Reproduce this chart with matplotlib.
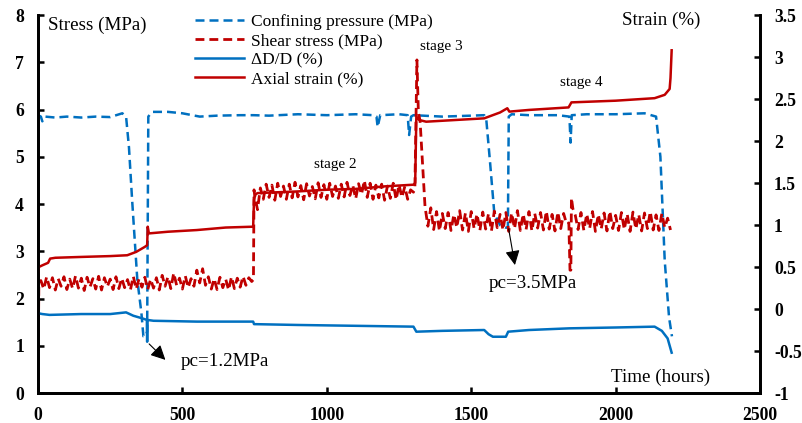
import matplotlib.pyplot as plt
from matplotlib.ticker import FuncFormatter

plt.rcParams['font.family'] = ['Liberation Serif', 'DejaVu Serif']

blue = "#0070C0"
red = "#C00000"

# confining pressure (MPa), left axis
conf_t = [0, 10, 15, 25, 60, 100, 150, 200, 250, 292, 305, 315, 326, 344, 358, 365, 372, 378,
          382, 395, 450, 500, 560, 620, 700, 746, 800, 900, 1000, 1100, 1160, 1172, 1176, 1185,
          1250, 1280, 1285, 1292, 1300, 1400, 1500, 1545, 1552, 1565, 1580, 1600, 1620, 1627,
          1630, 1640, 1700, 1800, 1840, 1844, 1848, 1900, 2000, 2100, 2140, 2155, 2170, 2185, 2195]
conf_p = [5.88, 5.85, 5.75, 5.85, 5.83, 5.85, 5.83, 5.85, 5.84, 5.92, 5.85, 5.2, 4.08, 2.39, 1.7,
          1.2, 1.2, 1.3, 5.85, 5.95, 5.95, 5.92, 5.85, 5.87, 5.88, 5.88, 5.87, 5.9, 5.88, 5.9,
          5.88, 5.85, 5.63, 5.88, 5.9, 5.88, 5.46, 5.85, 5.88, 5.85, 5.87, 5.88, 5.8, 4.9, 3.8,
          3.55, 3.5, 3.5, 5.85, 5.9, 5.88, 5.88, 5.85, 5.3, 5.88, 5.9, 5.9, 5.92, 5.85, 5.0, 2.8,
          1.6, 1.2]

# shear stress (MPa), left axis
shear_t0 = [0, 3]
shear0 = [0.0, 2.30]
shear_t1 = list(range(10, 750, 10))
shear1 = [2.38, 2.20, 2.46, 2.23, 2.44, 2.18, 2.42, 2.26, 2.46, 2.19,
          2.41, 2.21, 2.48, 2.22, 2.43, 2.17, 2.45, 2.24, 2.42, 2.20,
          2.47, 2.18, 2.44, 2.25, 2.41, 2.19, 2.46, 2.21, 2.43, 2.23,
          2.40, 2.18, 2.47, 2.20, 2.42, 2.24, 2.45, 2.19, 2.41, 2.22,
          2.44, 2.18, 2.49, 2.26, 2.46, 2.21, 2.54, 2.28, 2.43, 2.20,
          2.48, 2.23, 2.42, 2.26, 2.60, 2.33, 2.63, 2.28, 2.46, 2.20,
          2.42, 2.19, 2.45, 2.23, 2.41, 2.18, 2.46, 2.21, 2.43, 2.24,
          2.47, 2.28, 2.44, 2.36]
step2_t = [746, 748]
step2 = [2.40, 4.30]
shear_t2 = list(range(750, 1310, 10))
shear2 = [4.20, 3.88, 4.34, 4.10, 4.42, 4.14, 4.40, 4.08, 4.44, 4.16,
          4.38, 4.10, 4.42, 4.13, 4.46, 4.15, 4.39, 4.09, 4.43, 4.17,
          4.37, 4.11, 4.45, 4.14, 4.41, 4.10, 4.44, 4.16, 4.38, 4.12,
          4.42, 4.15, 4.46, 4.18, 4.40, 4.11, 4.43, 4.20, 4.50, 4.14,
          4.44, 4.10, 4.40, 4.13, 4.42, 4.08, 4.38, 4.12, 4.44, 4.09,
          4.41, 4.14, 4.37, 4.10, 4.30, 4.25]
peak_t = [1305, 1312, 1317, 1323, 1331]
peak = [4.35, 7.05, 5.95, 5.75, 4.90]
shear_t3 = list(range(1340, 1840, 10))
shear3 = [3.95, 3.53, 3.92, 3.46, 3.84, 3.43, 3.80, 3.48, 3.82, 3.44,
          3.78, 3.50, 3.86, 3.45, 3.81, 3.42, 3.84, 3.48, 3.79, 3.44,
          3.83, 3.47, 3.80, 3.43, 3.85, 3.50, 3.78, 3.45, 3.82, 3.42,
          3.81, 3.48, 3.86, 3.44, 3.79, 3.46, 3.84, 3.43, 3.80, 3.49,
          3.82, 3.45, 3.85, 3.47, 3.78, 3.43, 3.83, 3.48, 3.80, 3.58]
dip_t = [1838, 1842, 1845, 1847, 1852]
dip = [3.60, 2.60, 2.60, 4.13, 3.90]
shear_t4 = list(range(1860, 2200, 10))
shear4 = [3.77, 3.46, 3.82, 3.44, 3.79, 3.48, 3.84, 3.42, 3.78, 3.47,
          3.81, 3.43, 3.85, 3.48, 3.76, 3.44, 3.82, 3.46, 3.79, 3.42,
          3.83, 3.47, 3.78, 3.43, 3.81, 3.48, 3.84, 3.45, 3.77, 3.44,
          3.80, 3.50, 3.70, 3.45]

# dD/D (%), right axis
dd_t = [0, 15, 40, 150, 250, 305, 330, 360, 377, 378, 379, 400, 550, 745, 748, 900, 1100,
        1300, 1310, 1400, 1545, 1560, 1575, 1620, 1628, 1700, 1840, 2000, 2135, 2160, 2180, 2194]
dd = [-0.05, -0.06, -0.07, -0.06, -0.06, -0.04, -0.08, -0.11, -0.13, -0.39, -0.13, -0.14,
      -0.15, -0.15, -0.18, -0.19, -0.20, -0.21, -0.27, -0.26, -0.25, -0.30, -0.33, -0.33,
      -0.27, -0.25, -0.23, -0.22, -0.21, -0.26, -0.35, -0.52]

# axial strain (%), right axis
ax_t = [0, 3, 15, 35, 42, 60, 150, 250, 309, 340, 370, 378, 380, 384, 450, 550, 650, 745,
        748, 752, 760, 900, 1000, 1100, 1200, 1300, 1306, 1310, 1320, 1344, 1545, 1600, 1625,
        1632, 1700, 1837, 1847, 2000, 2135, 2170, 2187, 2190, 2194]
ax_s = [0.42, 0.50, 0.52, 0.55, 0.60, 0.61, 0.62, 0.63, 0.64, 0.68, 0.74, 0.76, 0.98, 0.90,
        0.92, 0.94, 0.97, 0.98, 1.30, 1.36, 1.38, 1.40, 1.42, 1.43, 1.46, 1.48, 1.50, 2.29,
        2.25, 2.23, 2.27, 2.34, 2.39, 2.35, 2.37, 2.40, 2.46, 2.48, 2.51, 2.55, 2.62, 2.75, 3.08]

shear_t = shear_t0 + shear_t1 + step2_t + shear_t2 + peak_t + shear_t3 + dip_t + shear_t4
shear = shear0 + shear1 + step2 + shear2 + peak + shear3 + dip + shear4

fig, ax = plt.subplots(figsize=(8.03, 4.23), dpi=100)
fig.subplots_adjust(left=0.0473, right=0.9465, bottom=0.0709, top=0.9645)
ax2 = ax.twinx()

l1, = ax.plot(conf_t, conf_p, color=blue, lw=1.8, dashes=(3.6, 2.0), label="Confining pressure (MPa)")
l2, = ax.plot(shear_t, shear, color=red, lw=2.0, dashes=(3.2, 1.8), label="Shear stress (MPa)")
l3, = ax2.plot(dd_t, dd, color=blue, lw=1.8, label="\u0394D/D (%)")
l4, = ax2.plot(ax_t, ax_s, color=red, lw=1.8, label="Axial strain (%)")

ax.set_xlim(0, 2500)
ax.set_ylim(0, 8)
ax2.set_ylim(-1, 3.5)
ax.set_xticks(range(0, 2501, 500))
ax.set_yticks(range(0, 9))
ax2.set_yticks([-1, -0.5, 0, 0.5, 1, 1.5, 2, 2.5, 3, 3.5])
ax2.yaxis.set_major_formatter(FuncFormatter(lambda v, p: f"{v:g}"))

for a in (ax, ax2):
    a.spines['top'].set_visible(False)
    for s in a.spines.values():
        s.set_linewidth(2)
    a.tick_params(direction='in', length=4, width=1.8, labelsize=12.7, pad=10)
    for lab in a.get_xticklabels() + a.get_yticklabels():
        lab.set_fontweight('bold')

ax.text(34, 7.79, "Stress (MPa)", fontsize=13.7, va='center')
ax.text(2023, 7.89, "Strain (%)", fontsize=13.7, va='center')
ax.text(1983, 0.34, "Time (hours)", fontsize=13.7, va='center')
ax.text(955, 4.83, "stage 2", fontsize=11, va='center')
ax.text(1321, 7.34, "stage 3", fontsize=11, va='center')
ax.text(1806, 6.58, "stage 4", fontsize=11, va='center')
ax.text(493, 0.66, "pc=1.2MPa", fontsize=13.7, va='center')
ax.text(1559, 2.31, "pc=3.5MPa", fontsize=13.7, va='center')

ax2.annotate("", xy=(448, 0.66 / 8 * 4.5 - 1), xytext=(378, 1.08 / 8 * 4.5 - 1),
             arrowprops=dict(arrowstyle="-|>", color="black", lw=0.8, mutation_scale=22))
ax2.annotate("", xy=(1653, 2.65 / 8 * 4.5 - 1), xytext=(1628, 3.53 / 8 * 4.5 - 1),
             arrowprops=dict(arrowstyle="-|>", color="black", lw=0.8, mutation_scale=22))

ax2.legend(handles=[l1, l2, l3, l4], loc='upper left', bbox_to_anchor=(0.2175, 1.003),
           frameon=False, fontsize=12.5, handlelength=2.8, handletextpad=0.4,
           labelspacing=0.17, borderpad=0, borderaxespad=0)

plt.savefig("out.png", dpi=100)
